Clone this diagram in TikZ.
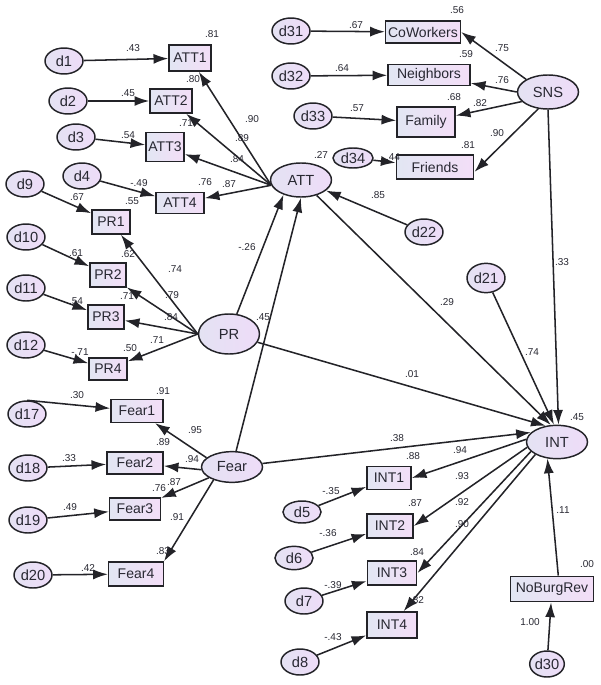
\documentclass[tikz,border=0pt]{standalone}
\usepackage{fontspec}
\setmainfont{Liberation Sans}
\usetikzlibrary{shapes.geometric, arrows.meta, positioning}
\definecolor{EdgeDark}{RGB}{35, 35, 40}
\definecolor{TextDark}{RGB}{40, 40, 50}
\definecolor{BoxLeft}{RGB}{226, 230, 243}
\definecolor{BoxRight}{RGB}{243, 222, 247}
\definecolor{OvalLeft}{RGB}{228, 226, 243}
\definecolor{OvalRight}{RGB}{238, 220, 248}

\begin{document}
\begin{tikzpicture}[
        x=0.75pt, y=-0.75pt,
        latent/.style={ellipse, draw=EdgeDark, line width=1.1pt, left color=OvalLeft, right color=OvalRight, minimum width=45.75pt, minimum height=25.5pt, inner sep=0pt, text=TextDark, font=\fontsize{11}{12}\selectfont},
        err/.style={ellipse, draw=EdgeDark, line width=1.1pt, left color=OvalLeft, right color=OvalRight, minimum width=28.5pt, minimum height=19.5pt, inner sep=0pt, text=TextDark, font=\fontsize{11}{12}\selectfont},
        obs/.style={rectangle, draw=EdgeDark, line width=1.2pt, left color=BoxLeft, right color=BoxRight, minimum height=18pt, inner sep=0pt, text=TextDark, font=\fontsize{10.5}{12}\selectfont},
        arrow/.style={-{Latex[length=11pt, width=7.5pt]}, line width=1.15pt, EdgeDark},
        coef/.style={inner sep=0pt, text=TextDark, font=\fontsize{7.5}{9}\selectfont}
    ]
    \useasboundingbox (0,0) rectangle (600,685);

    % ATT block
    \node[latent] (ATT) at (301,180) {ATT};
    \node[err] (d1) at (64,61) {d1};
    \node[obs, minimum width=31.5pt, minimum height=19.5pt] (ATT1) at (190,58) {ATT1};
    \node[err] (d2) at (68,101) {d2};
    \node[obs, minimum width=31.5pt] (ATT2) at (171,101) {ATT2};
    \node[err] (d3) at (76,137) {d3};
    \node[obs, minimum width=28.5pt, minimum height=21.75pt] (ATT3) at (165,147) {ATT3};
    \node[err] (d4) at (82,176) {d4};
    \node[obs, minimum width=36pt, minimum height=15.75pt] (ATT4) at (180,203) {ATT4};
    \node[err] (d22) at (424,232) {d22};

    % PR block
    \node[latent, minimum height=30pt] (PR) at (229,334) {PR};
    \node[err] (d9) at (25,184) {d9};
    \node[obs, minimum width=28.5pt] (PR1) at (111,222) {PR1};
    \node[err] (d10) at (26,237) {d10};
    \node[obs, minimum width=27pt] (PR2) at (108,275) {PR2};
    \node[err] (d11) at (26,288) {d11};
    \node[obs, minimum width=27pt] (PR3) at (106,317) {PR3};
    \node[err] (d12) at (26,345) {d12};
    \node[obs, minimum width=28.5pt, minimum height=16.5pt] (PR4) at (108,369) {PR4};

    % Fear block
    \node[latent, minimum height=23pt] (Fear) at (232,467) {Fear};
    \node[err] (d17) at (27,414) {d17};
    \node[obs, minimum width=39pt, minimum height=17pt] (Fear1) at (137,411) {Fear1};
    \node[err] (d18) at (28,468) {d18};
    \node[obs, minimum width=42pt, minimum height=16.5pt] (Fear2) at (135,463) {Fear2};
    \node[err] (d19) at (28,520) {d19};
    \node[obs, minimum width=38pt, minimum height=16.5pt] (Fear3) at (135,509) {Fear3};
    \node[err] (d20) at (33,575) {d20};
    \node[obs, minimum width=41pt] (Fear4) at (136,574) {Fear4};

    % SNS block
    \node[latent] (SNS) at (548,92) {SNS};
    \node[err] (d31) at (291,31) {d31};
    \node[obs, minimum width=56pt, minimum height=16.5pt] (CoWorkers) at (423,32) {CoWorkers};
    \node[err] (d32) at (291,76) {d32};
    \node[obs, minimum width=61.5pt, minimum height=16pt] (Neighbors) at (429,75) {Neighbors};
    \node[err] (d33) at (313,116) {d33};
    \node[obs, minimum width=43.5pt, minimum height=22.5pt] (Family) at (426,122) {Family};
    \node[err, minimum width=30pt, minimum height=15pt] (d34) at (353,158) {d34};
    \node[obs, minimum width=58pt] (Friends) at (435,167) {Friends};

    % INT block
    \node[latent, minimum height=25pt] (INT) at (557,442) {INT};
    \node[err, minimum height=22pt] (d21) at (486,278) {d21};
    \node[err, minimum height=16.5pt] (d5) at (302,512) {d5};
    \node[obs, minimum width=33pt, minimum height=17pt] (INT1) at (389,478) {INT1};
    \node[err, minimum height=17.5pt] (d6) at (294,558) {d6};
    \node[obs, minimum width=34.5pt] (INT2) at (390,526) {INT2};
    \node[err] (d7) at (304,601) {d7};
    \node[obs, minimum width=37pt] (INT3) at (392,573) {INT3};
    \node[err] (d8) at (300,662) {d8};
    \node[obs, minimum width=37.5pt, minimum height=19.5pt] (INT4) at (392,625) {INT4};
    \node[obs, minimum width=62pt, minimum height=19pt] (NoBurgRev) at (552,589) {NoBurgRev};
    \node[err, minimum width=23.5pt] (d30) at (547,664) {d30};

    % paths
    \draw[arrow] (d1) -- (ATT1);
    \draw[arrow] (d2) -- (ATT2);
    \draw[arrow] (d3) -- (ATT3);
    \draw[arrow] (d4) -- (ATT4);
    \draw[arrow] (ATT.190) -- (ATT1);
    \draw[arrow] (ATT.190) -- (ATT2);
    \draw[arrow] (ATT.190) -- (ATT3);
    \draw[arrow] (ATT.190) -- (ATT4);
    \draw[arrow] (d22) -- (ATT);
    \draw[arrow] (d9) -- (PR1);
    \draw[arrow] (d10) -- (PR2);
    \draw[arrow] (d11) -- (PR3);
    \draw[arrow] (d12) -- (PR4);
    \draw[arrow] (PR.west) -- (PR1);
    \draw[arrow] (PR.west) -- (PR2);
    \draw[arrow] (PR.west) -- (PR3);
    \draw[arrow] (PR.west) -- (PR4);
    \draw[arrow] (PR) -- (ATT.220);
    \draw[arrow] (d17.north) -- (Fear1);
    \draw[arrow] (d18) -- (Fear2);
    \draw[arrow] (d19) -- (Fear3);
    \draw[arrow] (d20) -- (Fear4);
    \draw[arrow] (Fear.160) -- (Fear1);
    \draw[arrow] (Fear.185) -- (Fear2);
    \draw[arrow] (Fear.205) -- (Fear3);
    \draw[arrow] (Fear.215) -- (Fear4.north east);
    \draw[arrow] (Fear) -- (ATT.south);
    \draw[arrow] (d31) -- (CoWorkers);
    \draw[arrow] (d32) -- (Neighbors);
    \draw[arrow] (d33) -- (Family);
    \draw[arrow] (d34) -- (Friends);
    \draw[arrow] (SNS.150) -- (CoWorkers.east);
    \draw[arrow] (SNS.180) -- (Neighbors);
    \draw[arrow] (SNS.200) -- (Family);
    \draw[arrow] (SNS.240) -- (Friends.-7);
    \draw[arrow] (SNS.south) -- (INT.85);
    \draw[arrow] (d21) -- (INT.100);
    \draw[arrow] (ATT) -- (INT.110);
    \draw[arrow] (PR) -- (INT.125);
    \draw[arrow] (Fear) -- (INT.160);
    \draw[arrow] (INT.175) -- (INT1.east);
    \draw[arrow] (INT.190) -- (INT2.east);
    \draw[arrow] (INT.200) -- (INT3.east);
    \draw[arrow] (INT.210) -- (INT4);
    \draw[arrow] (d5) -- (INT1);
    \draw[arrow] (d6) -- (INT2);
    \draw[arrow] (d7) -- (INT3);
    \draw[arrow] (d8) -- (INT4);
    \draw[arrow] (NoBurgRev.65) -- (INT.240);
    \draw[arrow] (d30) -- (NoBurgRev);

    % estimates
    \node[coef] (c-d1) at (133,48) {.43};
    \node[coef] (r-ATT1) at (212,34) {.81};
    \node[coef] (c-d2) at (128,93) {.45};
    \node[coef] (r-ATT2) at (193,79) {.80};
    \node[coef] (c-d3) at (128,135) {.54};
    \node[coef] (r-ATT3) at (186,123) {.71};
    \node[coef] (c-d4) at (139,183) {-.49};
    \node[coef] (c-d4b) at (132,201) {.55};
    \node[coef] (r-ATT4) at (205,182) {.76};
    \node[coef] (l-ATT1) at (252,119) {.90};
    \node[coef] (l-ATT2) at (242,138) {.89};
    \node[coef] (l-ATT3) at (237,159) {.84};
    \node[coef] (l-ATT4) at (229,184) {.87};
    \node[coef] (r-ATT) at (321,155) {.27};
    \node[coef] (c-d22) at (378,195) {.85};
    \node[coef] (c-d9) at (77,197) {.67};
    \node[coef] (c-d10) at (76,253) {.61};
    \node[coef] (r-PR2) at (128,254) {.62};
    \node[coef] (c-d11) at (76,301) {.54};
    \node[coef] (r-PR3) at (127,296) {.71};
    \node[coef] (c-d12) at (80,352) {-.71};
    \node[coef] (r-PR4) at (130,348) {.50};
    \node[coef] (l-PR1) at (175,269) {.74};
    \node[coef] (l-PR2) at (172,295) {.79};
    \node[coef] (l-PR3) at (171,317) {.84};
    \node[coef] (l-PR4) at (157,340) {.71};
    \node[coef] (r-PR) at (263,317) {.45};
    \node[coef] (b-PR-ATT) at (247,247) {-.26};
    \node[coef] (b-PR-INT) at (412,374) {.01};
    \node[coef] (c-d17) at (77,395) {.30};
    \node[coef] (r-Fear1) at (163,391) {.91};
    \node[coef] (c-d18) at (69,458) {.33};
    \node[coef] (r-Fear2) at (163,442) {.89};
    \node[coef] (c-d19) at (70,507) {.49};
    \node[coef] (r-Fear3) at (159,488) {.76};
    \node[coef] (c-d20) at (88,568) {.42};
    \node[coef] (r-Fear4) at (163,551) {.83};
    \node[coef] (l-Fear1) at (195,430) {.95};
    \node[coef] (l-Fear2) at (192,459) {.94};
    \node[coef] (l-Fear3) at (174,482) {.87};
    \node[coef] (l-Fear4) at (177,517) {.91};
    \node[coef] (b-Fear-INT) at (397,438) {.38};
    \node[coef] (c-d31) at (356,25) {.67};
    \node[coef] (r-CoWorkers) at (457,10) {.56};
    \node[coef] (c-d32) at (342,68) {.64};
    \node[coef] (r-Neighbors) at (466,54) {.59};
    \node[coef] (c-d33) at (357,108) {.57};
    \node[coef] (r-Family) at (454,97) {.68};
    \node[coef] (c-d34) at (393,157) {.44};
    \node[coef] (r-Friends) at (468,145) {.81};
    \node[coef] (l-CoWorkers) at (502,48) {.75};
    \node[coef] (l-Neighbors) at (502,80) {.76};
    \node[coef] (l-Family) at (480,103) {.82};
    \node[coef] (l-Friends) at (497,133) {.90};
    \node[coef] (b-SNS-INT) at (562,262) {.33};
    \node[coef] (b-ATT-INT) at (447,302) {.29};
    \node[coef] (c-d21) at (532,352) {.74};
    \node[coef] (r-INT) at (577,417) {.45};
    \node[coef] (l-INT1) at (460,450) {.94};
    \node[coef] (r-INT1) at (413,456) {.88};
    \node[coef] (c-d5) at (331,491) {-.35};
    \node[coef] (l-INT2) at (462,476) {.93};
    \node[coef] (r-INT2) at (415,503) {.87};
    \node[coef] (c-d6) at (328,533) {-.36};
    \node[coef] (l-INT3) at (462,502) {.92};
    \node[coef] (r-INT3) at (417,552) {.84};
    \node[coef] (c-d7) at (333,585) {-.39};
    \node[coef] (l-INT4) at (462,524) {.90};
    \node[coef] (r-INT4) at (417,600) {.82};
    \node[coef] (c-d8) at (333,637) {-.43};
    \node[coef] (b-NBR-INT) at (563,510) {.11};
    \node[coef] (r-NoBurgRev) at (587,564) {.00};
    \node[coef] (c-d30) at (530,622) {1.00};
\end{tikzpicture}
\end{document}
